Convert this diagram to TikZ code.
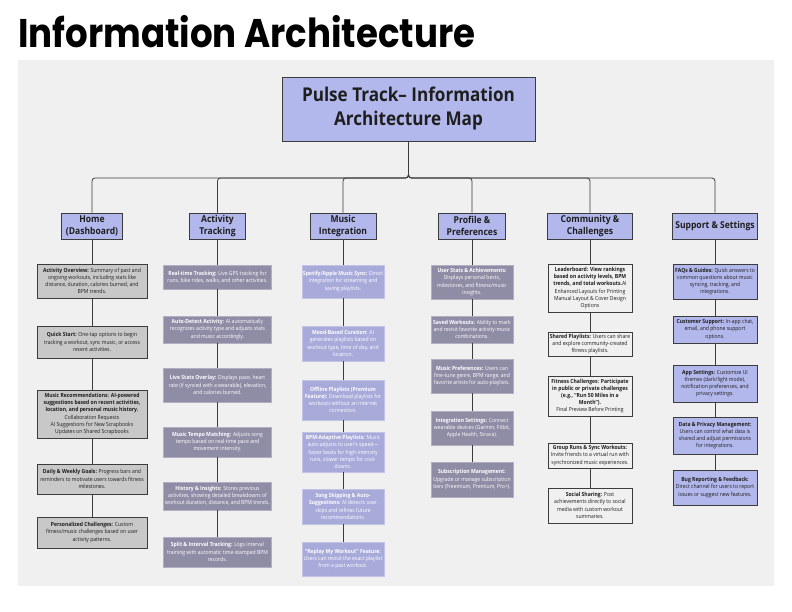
\documentclass[tikz,border=0pt]{standalone}
\usepackage{fontspec}
\setmainfont{Open Sans}[FakeStretch=0.9]
\newfontfamily\titlefont{Poppins}[FakeStretch=0.89]
\definecolor{panel}{HTML}{F0F0F0}
\definecolor{lav}{HTML}{B3B8EC}
\definecolor{homefill}{HTML}{C8C8C8}
\definecolor{actfill}{HTML}{8F8CA6}
\definecolor{musfill}{HTML}{A8AADA}
\definecolor{edge}{HTML}{3C3C3C}
\definecolor{ink}{HTML}{1E1E1E}
\tikzset{
  child/.style={draw=edge, line width=0.7pt, inner sep=0pt, align=center, text=ink,
    font=\fontsize{5.6}{7.2}\selectfont},
  homebox/.style={child, fill=homefill, minimum width=110},
  actbox/.style={child, fill=actfill, draw=actfill!70!white, text=white, minimum width=108},
  musbox/.style={child, fill=musfill, draw=musfill!70!white, text=white, minimum width=82},
  profbox/.style={child, fill=actfill, draw=actfill!70!white, text=white, minimum width=82},
  combox/.style={child, fill=panel, minimum width=84},
  supbox/.style={child, fill=lav, minimum width=84},
  catbox/.style={draw=edge, line width=0.7pt, fill=lav, inner sep=0pt, align=center, text=ink,
    font=\bfseries\fontsize{9.5}{12}\selectfont, minimum height=26},
  link/.style={draw=edge, line width=0.8pt},
}
\begin{document}
\begin{tikzpicture}[x=1pt,y=-1pt]
\useasboundingbox (0,0) rectangle (792,612);
\fill[white] (0,0) rectangle (792,612);
\fill[panel] (18,60) rectangle (774,586);
\node[anchor=base west, inner sep=0pt, font=\titlefont\bfseries\fontsize{40}{40}\selectfont] (title) at (18,48) {Information Architecture};

\node[draw=edge, line width=0.8pt, fill=lav, minimum width=253, minimum height=64, align=center,
  font=\bfseries\fontsize{19}{24}\selectfont, text=ink] (root) at (408.5,109) {Pulse Track– Information\\Architecture Map};
\coordinate (bus) at (408.5,178);

\node[catbox, minimum width=61] (home) at (92,226) {Home\\(Dashboard)};
\node[catbox, minimum width=56] (act) at (217.5,226) {Activity\\Tracking};
\node[catbox, minimum width=66] (mus) at (343,226) {Music\\Integration};
\node[catbox, minimum width=67] (prof) at (472,226) {Profile \&\\Preferences};
\node[catbox, minimum width=85] (com) at (590,226) {Community \&\\Challenges};
\node[catbox, minimum width=85] (sup) at (715,226) {Support \& Settings};

\foreach \c in {home,act,mus,prof,com,sup}
  \draw[link, rounded corners=3pt] (root.south) -- (bus) -| (\c.north);

% Home
\node[homebox, minimum height=34] (h1) at (92,281) {\textbf{Activity Overview:} Summary of past and\\ongoing workouts, including stats like\\distance, duration, calories burned, and\\BPM trends.};
\node[homebox, minimum height=32] (h2) at (92,342) {\textbf{Quick Start:} One-tap options to begin\\tracking a workout, sync music, or access\\recent activities.};
\node[homebox, minimum height=48] (h3) at (92,414) {\textbf{Music Recommendations: AI-powered}\\\textbf{suggestions based on recent activities,}\\\textbf{location, and personal music history.}\\Collaboration Requests\\AI Suggestions for New Scrapbooks\\Updates on Shared Scrapbooks};
\node[homebox, minimum height=30] (h4) at (92,479) {\textbf{Daily \& Weekly Goals:} Progress bars and\\reminders to motivate users towards fitness\\milestones.};
\node[homebox, minimum height=31] (h5) at (92,532.5) {\textbf{Personalized Challenges:} Custom\\fitness/music challenges based on user\\activity patterns.};

% Activity
\node[actbox, minimum height=24] (a1) at (217.5,277) {\textbf{Real-time Tracking:} Live GPS tracking for\\runs, bike rides, walks, and other activities.};
\node[actbox, minimum height=27] (a2) at (217.5,329.5) {\textbf{Auto-Detect Activity:} AI automatically\\recognizes activity type and adjusts stats\\and music accordingly.};
\node[actbox, minimum height=34] (a3) at (217.5,385) {\textbf{Live Stats Overlay:} Displays pace, heart\\rate (if synced with a wearable), elevation,\\and calories burned.};
\node[actbox, minimum height=30] (a4) at (217.5,442) {\textbf{Music Tempo Matching:} Adjusts song\\tempo based on real-time pace and\\movement intensity.};
\node[actbox, minimum height=28] (a5) at (217.5,496) {\textbf{History \& Insights:} Stores previous\\activities, showing detailed breakdowns of\\workout duration, distance, and BPM trends.};
\node[actbox, minimum height=30] (a6) at (217.5,552) {\textbf{Split \& Interval Tracking:} Logs interval\\training with automatic time-stamped BPM\\records.};

% Music
\node[musbox, minimum height=33] (m1) at (343,281.5) {\textbf{Spotify/Apple Music Sync:} Direct\\integration for streaming and\\saving playlists.};
\node[musbox, minimum height=35] (m2) at (343,343.5) {\textbf{Mood-Based Curation:} AI\\generates playlists based on\\workout type, time of day, and\\location.};
\node[musbox, minimum height=40] (m3) at (343,400) {\textbf{Offline Playlists (Premium}\\\textbf{Feature):} Download playlists for\\workouts without an internet\\connection.};
\node[musbox, minimum height=40] (m4) at (343,452) {\textbf{BPM-Adaptive Playlists:} Music\\auto-adjusts to user's speed—\\faster beats for high-intensity\\runs, slower tempo for cool-\\downs.};
\node[musbox, minimum height=35] (m5) at (343,506.5) {\textbf{Song Skipping \& Auto-}\\\textbf{Suggestions:} AI detects user\\skips and refines future\\recommendations.};
\node[musbox, minimum height=34] (m6) at (343,559) {\textbf{“Replay My Workout” Feature:}\\Users can revisit the exact playlist\\from a past workout.};

% Profile
\node[profbox, minimum height=34] (p1) at (472,282) {\textbf{User Stats \& Achievements:}\\Displays personal bests,\\milestones, and fitness/music\\insights.};
\node[profbox, minimum height=27] (p2) at (472,329.5) {\textbf{Saved Workouts:} Ability to mark\\and revisit favorite activity-music\\combinations.};
\node[profbox, minimum height=34] (p3) at (472,376) {\textbf{Music Preferences:} Users can\\fine-tune genre, BPM range, and\\favorite artists for auto-playlists.};
\node[profbox, minimum height=34] (p4) at (472,428) {\textbf{Integration Settings:} Connect\\wearable devices (Garmin, Fitbit,\\Apple Health, Strava).};
\node[profbox, minimum height=35] (p5) at (472,479.5) {\textbf{Subscription Management:}\\Upgrade or manage subscription\\tiers (Freemium, Premium, Pro+).};

% Community
\node[combox, minimum height=48] (c1) at (590,288) {\textbf{Leaderboard: View rankings}\\\textbf{based on activity levels, BPM}\\\textbf{trends, and total workouts.}AI\\Enhanced Layouts for Printing\\Manual Layout \& Cover Design\\Options};
\node[combox, minimum height=24] (c2) at (590,344) {\textbf{Shared Playlists:} Users can share\\and explore community-created\\fitness playlists.};
\node[combox, minimum height=40] (c3) at (590,396) {\textbf{Fitness Challenges: Participate}\\\textbf{in public or private challenges}\\\textbf{(e.g., “Run 50 Miles in a}\\\textbf{Month”).}\\Final Preview Before Printing};
\node[combox, minimum height=25] (c4) at (590,455.5) {\textbf{Group Runs \& Sync Workouts:}\\Invite friends to a virtual run with\\synchronized music experiences.};
\node[combox, minimum height=35] (c5) at (590,505.5) {\textbf{Social Sharing:} Post\\achievements directly to social\\media with custom workout\\summaries.};

% Support
\node[supbox, minimum height=35] (s1) at (715,281.5) {\textbf{FAQs \& Guides:} Quick answers to\\common questions about music\\syncing, tracking, and\\integrations.};
\node[supbox, minimum height=27] (s2) at (715,329.5) {\textbf{Customer Support:} In-app chat,\\email, and phone support\\options.};
\node[supbox, minimum height=37] (s3) at (715,383.5) {\textbf{App Settings:} Customize UI\\themes (dark/light mode),\\notification preferences, and\\privacy settings.};
\node[supbox, minimum height=37] (s4) at (715,435.5) {\textbf{Data \& Privacy Management:}\\Users can control what data is\\shared and adjust permissions\\for integrations.};
\node[supbox, minimum height=35] (s5) at (715,487.5) {\textbf{Bug Reporting \& Feedback:}\\Direct channel for users to report\\issues or suggest new features.};

\draw[link] (home) -- (h1) (h1) -- (h2) (h2) -- (h3) (h3) -- (h4) (h4) -- (h5);
\draw[link] (act) -- (a1) (a1) -- (a2) (a2) -- (a3) (a3) -- (a4) (a4) -- (a5) (a5) -- (a6);
\draw[link] (mus) -- (m1) (m1) -- (m2) (m2) -- (m3) (m3) -- (m4) (m4) -- (m5) (m5) -- (m6);
\draw[link] (prof) -- (p1) (p1) -- (p2) (p2) -- (p3) (p3) -- (p4) (p4) -- (p5);
\draw[link] (com) -- (c1) (c1) -- (c2) (c2) -- (c3) (c3) -- (c4) (c4) -- (c5);
\draw[link] (sup) -- (s1) (s1) -- (s2) (s2) -- (s3) (s3) -- (s4) (s4) -- (s5);
\end{tikzpicture}
\end{document}
